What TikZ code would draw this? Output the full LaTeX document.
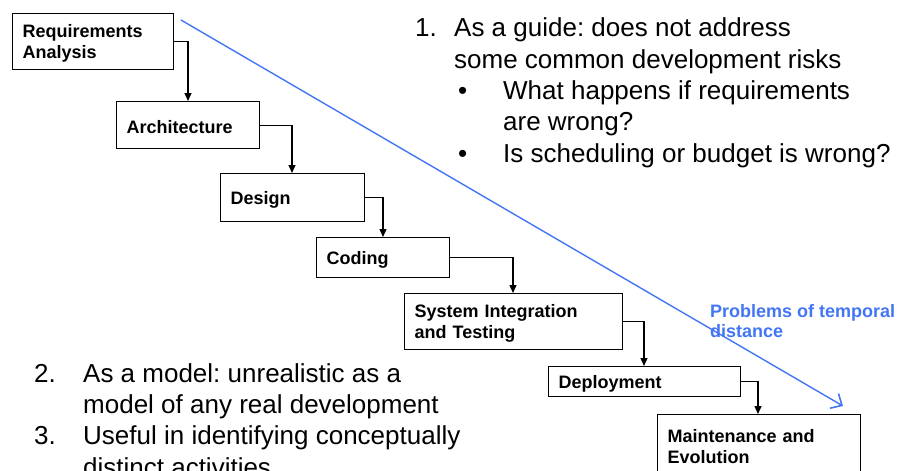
\documentclass[tikz,border=0pt]{standalone}
\usepackage{fontspec}
\setmainfont{Liberation Sans}
\usetikzlibrary{arrows.meta}
\frenchspacing
\definecolor{noteblue}{RGB}{66,118,245}
% extra height on a box's first line, to sit its text a little lower
\newcommand{\phaseup}{\rule{0pt}{17pt}}
\tikzset{
  phase/.style={draw=black, line width=1.3pt, rectangle, anchor=north west,
    inner xsep=10pt, inner ysep=0pt, align=left,
    font=\fontsize{18}{21}\selectfont\bfseries},
  flow/.style={draw=black, line width=1.3pt, -{Triangle[length=8pt,width=7pt]}},
  bigtext/.style={anchor=base west, inner sep=0pt, font=\fontsize{26}{31}\selectfont},
  drift/.style={draw=noteblue, line width=1.4pt, -{Straight Barb[length=9pt,width=17pt,line width=1.6pt]}},
  driftlabel/.style={anchor=base west, inner sep=0pt, align=left, text=noteblue,
    font=\fontsize{18}{20}\selectfont\bfseries}
}
\begin{document}
\begin{tikzpicture}[x=1pt,y=-1pt]
\useasboundingbox (0,0) rectangle (906,471);
\clip (0,0) rectangle (906,471);

% process phases
\node[phase, text width=141pt, minimum height=56pt] (ra) at (12,13) {\phaseup Requirements\\Analysis};
\node[phase, text width=123pt, minimum height=47pt] (arch) at (116,101) {\phaseup Architecture};
\node[phase, text width=124pt, minimum height=48pt] (des) at (220,173) {\phaseup Design};
\node[phase, text width=113pt, minimum height=40pt] (cod) at (316,237) {\phaseup Coding};
\node[phase, text width=198pt, minimum height=56pt] (sit) at (404,293) {\phaseup System Integration\\and Testing};
\node[phase, text width=172pt, minimum height=30pt] (dep) at (548,366) {\phaseup Deployment};
\node[phase, text width=183pt, minimum height=60pt] (me) at (657,414) {\phaseup Maintenance and\\Evolution};

% stage-to-stage flow
\draw[flow] (ra.east) -| ([xshift=72pt]arch.north west);
\draw[flow] (arch.east) -| ([xshift=72pt]des.north west);
\draw[flow] (des.east) -| ([xshift=67pt]cod.north west);
\draw[flow] (cod.east) -| ([xshift=109pt]sit.north west);
\draw[flow] (sit.east) -| ([xshift=96pt]dep.north west);
\draw[flow] (dep.east) -| ([xshift=101pt]me.north west);

% temporal distance arrow
\coordinate (dstart) at (181,20);
\coordinate (dend) at (843,406);
\draw[drift] (dstart) -- (dend);
\node[driftlabel] (dlab) at (710,337) {Problems of temporal\\distance};

% remarks, upper right
\node[bigtext] (n1) at (415,36.5) {1.};
\node[bigtext] (t1a) at (454,36.5) {As a guide: does not address};
\node[bigtext] (t1b) at (454,68) {some common development risks};
\node[bigtext] (b1) at (458,99) {•};
\node[bigtext] (t1c) at (503,99) {What happens if requirements};
\node[bigtext] (t1d) at (503,130.5) {are wrong?};
\node[bigtext] (b2) at (458,162) {•};
\node[bigtext] (t1e) at (503,162) {Is scheduling or budget is wrong?};

% remarks, lower left
\node[bigtext] (n2) at (34,382) {2.};
\node[bigtext] (t2a) at (83,382) {As a model: unrealistic as a};
\node[bigtext] (t2b) at (83,413) {model of any real development};
\node[bigtext] (n3) at (34,444.5) {3.};
\node[bigtext] (t3a) at (83,444.5) {Useful in identifying conceptually};
\node[bigtext] (t3b) at (83,476) {distinct activities};
\end{tikzpicture}
\end{document}
